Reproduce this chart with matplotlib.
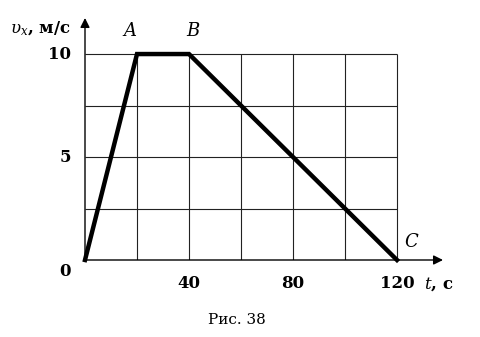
import matplotlib.pyplot as plt

plt.rcParams['mathtext.fontset'] = 'dejavuserif'

# graph v_x(t): O -> A -> B -> C
t_pts = [0, 20, 40, 120]
v_pts = [0, 10, 10, 0]
point_names = ['A', 'B', 'C']

grid_t = [20, 40, 60, 80, 100, 120]
grid_v = [2.5, 5, 7.5, 10]
xtick_vals = [40, 80, 120]
xtick_labels = ['40', '80', '120']
ytick_vals = [0, 5, 10]
ytick_labels = ['0', '5', '10']

serif = ['DejaVu Serif']

fig = plt.figure(figsize=(4.81, 3.37), dpi=100)
ax = fig.add_axes([85 / 481, 77 / 337, 358 / 481, 242 / 337])
ax.set_xlim(0, 137.7)
ax.set_ylim(0, 11.75)
ax.axis('off')

# grid
ax.vlines(grid_t, 0, 10, colors='#222222', lw=0.8)
ax.hlines(grid_v, 0, 120, colors='#222222', lw=0.8)

# axes with arrows
ax.annotate('', xy=(137.7, 0), xytext=(0, 0),
            arrowprops=dict(arrowstyle='-|>', color='black', lw=1.0,
                            mutation_scale=14, shrinkA=0, shrinkB=0))
ax.annotate('', xy=(0, 11.75), xytext=(0, 0),
            arrowprops=dict(arrowstyle='-|>', color='black', lw=1.0,
                            mutation_scale=14, shrinkA=0, shrinkB=0))

# the graph
ax.plot(t_pts, v_pts, color='black', lw=3.2, solid_joinstyle='miter', clip_on=False)

# tick labels
for x, s in zip(xtick_vals, xtick_labels):
    ax.text(x, -0.75, s, ha='center', va='top', fontsize=12,
            fontweight='bold', family=serif)
for y, s in zip(ytick_vals, ytick_labels):
    ax.text(-5.5, y - (0.55 if y == 0 else 0), s, ha='right', va='center',
            fontsize=12, fontweight='bold', family=serif)

# point labels
ax.text(17.3, 10.7, point_names[0], ha='center', va='bottom', fontsize=13,
        fontstyle='italic', family=serif)
ax.text(41.5, 10.7, point_names[1], ha='center', va='bottom', fontsize=13,
        fontstyle='italic', family=serif)
ax.text(125.5, 0.45, point_names[2], ha='center', va='bottom', fontsize=13,
        fontstyle='italic', family=serif)

# axis names
ax.text(130.5, -0.75, '$t$, с', ha='left', va='top', fontsize=12,
        fontweight='bold', family=serif)
fig.text(10 / 481, 1 - 29 / 337, r'$\upsilon_x$, м/с', ha='left', va='center',
         fontsize=12, fontweight='bold', family=serif)

fig.text(237 / 481, 1 - 320 / 337, 'Рис. 38', ha='center', va='center',
         fontsize=11, family=serif)

fig.savefig('out.png', dpi=100)
